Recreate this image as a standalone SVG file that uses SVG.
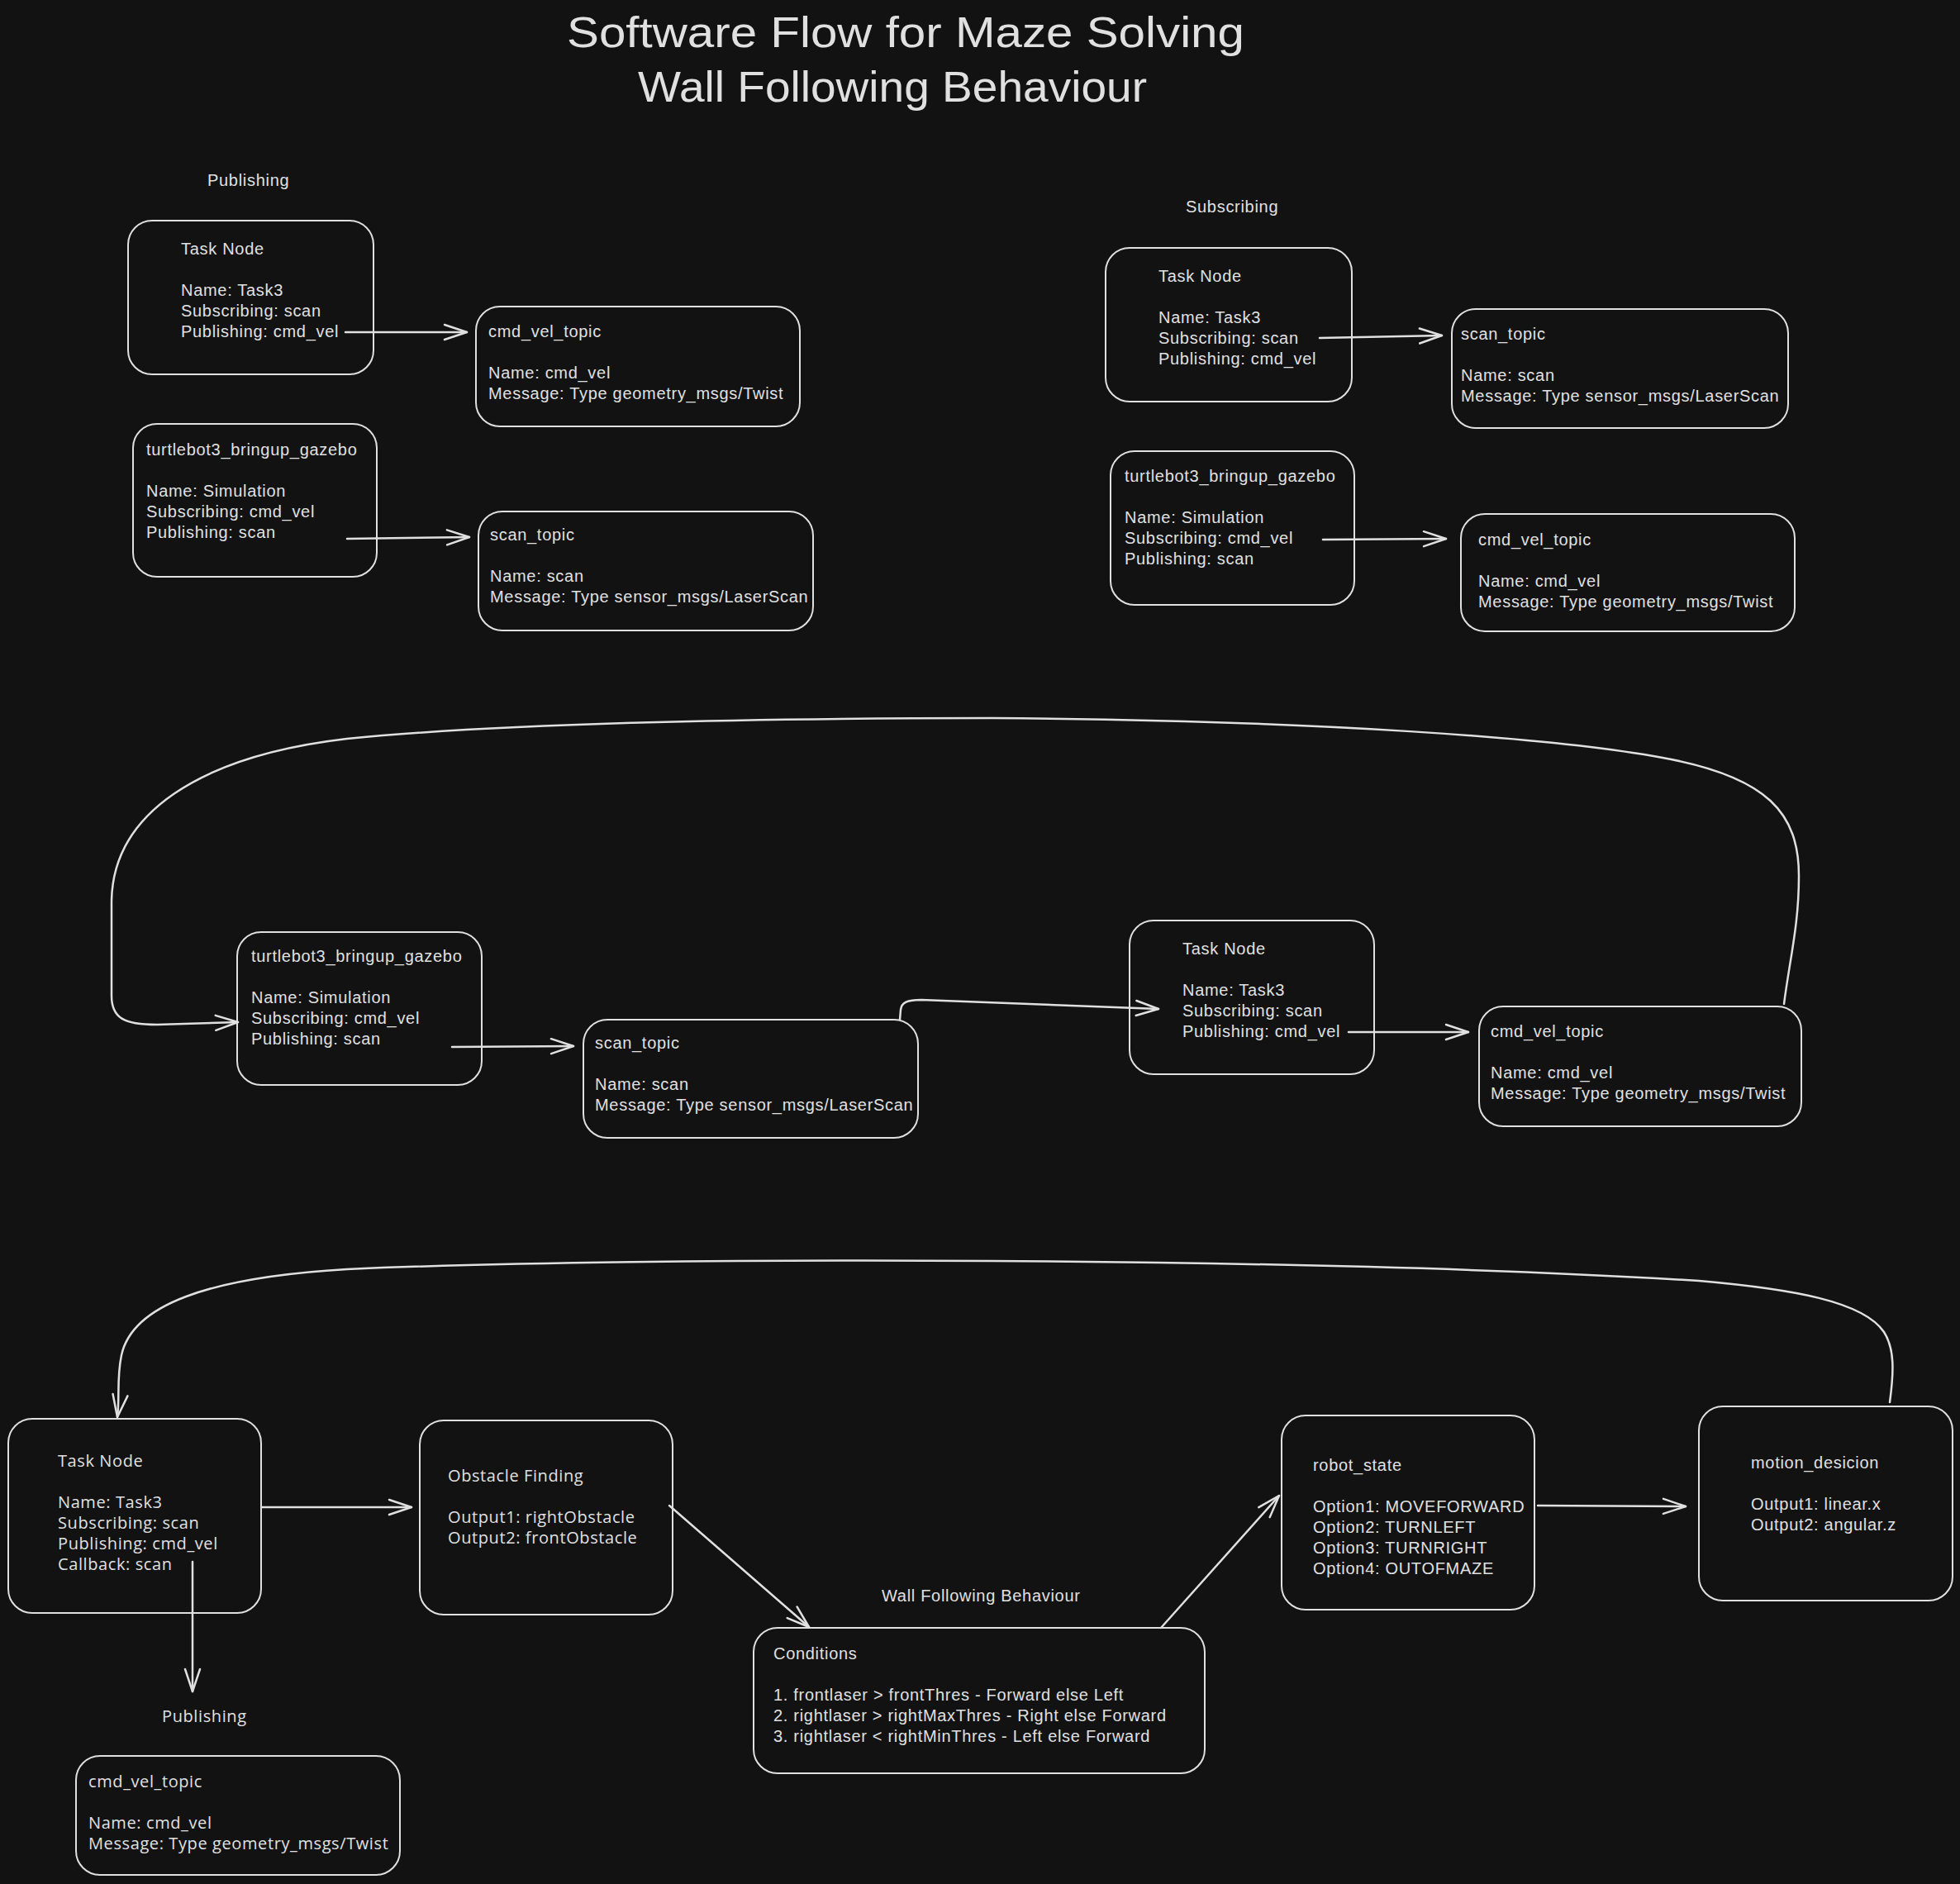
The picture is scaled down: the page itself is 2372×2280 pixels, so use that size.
<svg xmlns="http://www.w3.org/2000/svg" width="2372" height="2280" viewBox="0 0 2372 2280">
<defs>
<style>
.bg{fill:#121212}
.box{fill:none;stroke:#e0e0e0;stroke-width:2}
.edge{fill:none;stroke:#e0e0e0;stroke-width:2.5;stroke-linecap:round;stroke-linejoin:round}
.hw{font-family:"Liberation Sans",Arial,sans-serif;font-size:20px;fill:#e0e0e0;letter-spacing:0.7px}
.nu{font-family:"Open Sans","Noto Sans",sans-serif;font-size:20px;fill:#e0e0e0;letter-spacing:0.6px}
.title{font-family:"Liberation Sans",Arial,sans-serif;font-size:52px;fill:#e0e0e0}
</style>
<marker id="arr" markerUnits="userSpaceOnUse" markerWidth="40" markerHeight="30" viewBox="-30 -15 34 30" refX="0" refY="0" orient="auto">
<path d="M-27,-9 L0,0 L-27,9" fill="none" stroke="#e0e0e0" stroke-width="2.5" stroke-linecap="round" stroke-linejoin="round"/>
</marker>
</defs>
<rect class="bg" x="0" y="0" width="2372" height="2280"/>

<g id="title">
<text class="title" x="686" y="57" textLength="820" lengthAdjust="spacingAndGlyphs">Software Flow for Maze Solving</text>
<text class="title" x="772" y="123" textLength="616" lengthAdjust="spacingAndGlyphs">Wall Following Behaviour</text>
</g>

<g id="labels">
<text class="hw" x="251" y="225">Publishing</text>
<text class="hw" x="1435" y="257">Subscribing</text>
<text class="nu" x="196" y="2084">Publishing</text>
<text class="hw" x="1067" y="1938">Wall Following Behaviour</text>
</g>

<g id="connectors">
<path class="edge" d="M418 402 L565 402" marker-end="url(#arr)"/>
<path class="edge" d="M420 652 L568 650" marker-end="url(#arr)"/>
<path class="edge" d="M1597 409 L1745 406" marker-end="url(#arr)"/>
<path class="edge" d="M1601 653 L1750 652" marker-end="url(#arr)"/>
<path class="edge" d="M547 1267 L694 1266" marker-end="url(#arr)"/>
<path class="edge" d="M1089 1234 L1090 1222 C1091 1213 1098 1210 1115 1210 L1402 1221" marker-end="url(#arr)"/>
<path class="edge" d="M1632 1249 L1777 1249" marker-end="url(#arr)"/>
<path class="edge" d="M2159 1215 C2166 1160 2177 1120 2177 1060 C2177 985 2140 940 2012 917 C1880 893 1600 872 1200 869 C900 869 600 876 420 894 C240 915 137 985 135 1090 L135 1205 C135 1232 150 1240 190 1240 L288 1237" marker-end="url(#arr)"/>
<path class="edge" d="M317 1824 L498 1824" marker-end="url(#arr)"/>
<path class="edge" d="M233 1890 L233 2047" marker-end="url(#arr)"/>
<path class="edge" d="M810 1822 L979 1969" marker-end="url(#arr)"/>
<path class="edge" d="M1405 1970 L1548 1810" marker-end="url(#arr)"/>
<path class="edge" d="M1861 1822 L2040 1823" marker-end="url(#arr)"/>
<path class="edge" d="M2287 1697 C2292 1660 2293 1632 2280 1612 C2255 1575 2170 1560 2056 1550 C1800 1534 1500 1528 1200 1526 C900 1524 600 1528 420 1536 C250 1546 160 1580 147 1640 C141 1668 145 1692 142 1715" marker-end="url(#arr)"/>
</g>

<g id="task-pub">
<rect class="box" x="155" y="267" width="297" height="186" rx="29"/>
<text class="hw" x="219" y="308">Task Node</text>
<text class="hw" x="219" y="358">Name: Task3</text>
<text class="hw" x="219" y="383">Subscribing: scan</text>
<text class="hw" x="219" y="408">Publishing: cmd_vel</text>
</g>
<g id="cmdvel-pub">
<rect class="box" x="576" y="371" width="392" height="145" rx="29"/>
<text class="hw" x="591" y="408">cmd_vel_topic</text>
<text class="hw" x="591" y="458">Name: cmd_vel</text>
<text class="hw" x="591" y="483">Message: Type geometry_msgs/Twist</text>
</g>
<g id="sim-pub">
<rect class="box" x="161" y="513" width="295" height="185" rx="29"/>
<text class="hw" x="177" y="551">turtlebot3_bringup_gazebo</text>
<text class="hw" x="177" y="601">Name: Simulation</text>
<text class="hw" x="177" y="626">Subscribing: cmd_vel</text>
<text class="hw" x="177" y="651">Publishing: scan</text>
</g>
<g id="scan-pub">
<rect class="box" x="579" y="619" width="405" height="144" rx="29"/>
<text class="hw" x="593" y="654">scan_topic</text>
<text class="hw" x="593" y="704">Name: scan</text>
<text class="hw" x="593" y="729">Message: Type sensor_msgs/LaserScan</text>
</g>

<g id="task-sub">
<rect class="box" x="1338" y="300" width="298" height="186" rx="29"/>
<text class="hw" x="1402" y="341">Task Node</text>
<text class="hw" x="1402" y="391">Name: Task3</text>
<text class="hw" x="1402" y="416">Subscribing: scan</text>
<text class="hw" x="1402" y="441">Publishing: cmd_vel</text>
</g>
<g id="scan-sub">
<rect class="box" x="1757" y="374" width="407" height="144" rx="29"/>
<text class="hw" x="1768" y="411">scan_topic</text>
<text class="hw" x="1768" y="461">Name: scan</text>
<text class="hw" x="1768" y="486">Message: Type sensor_msgs/LaserScan</text>
</g>
<g id="sim-sub">
<rect class="box" x="1344" y="546" width="295" height="186" rx="29"/>
<text class="hw" x="1361" y="583">turtlebot3_bringup_gazebo</text>
<text class="hw" x="1361" y="633">Name: Simulation</text>
<text class="hw" x="1361" y="658">Subscribing: cmd_vel</text>
<text class="hw" x="1361" y="683">Publishing: scan</text>
</g>
<g id="cmdvel-sub">
<rect class="box" x="1768" y="622" width="404" height="142" rx="29"/>
<text class="hw" x="1789" y="660">cmd_vel_topic</text>
<text class="hw" x="1789" y="710">Name: cmd_vel</text>
<text class="hw" x="1789" y="735">Message: Type geometry_msgs/Twist</text>
</g>

<g id="sim-loop">
<rect class="box" x="287" y="1128" width="296" height="185" rx="29"/>
<text class="hw" x="304" y="1164">turtlebot3_bringup_gazebo</text>
<text class="hw" x="304" y="1214">Name: Simulation</text>
<text class="hw" x="304" y="1239">Subscribing: cmd_vel</text>
<text class="hw" x="304" y="1264">Publishing: scan</text>
</g>
<g id="scan-loop">
<rect class="box" x="706" y="1234" width="405" height="143" rx="29"/>
<text class="hw" x="720" y="1269">scan_topic</text>
<text class="hw" x="720" y="1319">Name: scan</text>
<text class="hw" x="720" y="1344">Message: Type sensor_msgs/LaserScan</text>
</g>
<g id="task-loop">
<rect class="box" x="1367" y="1114" width="296" height="186" rx="29"/>
<text class="hw" x="1431" y="1155">Task Node</text>
<text class="hw" x="1431" y="1205">Name: Task3</text>
<text class="hw" x="1431" y="1230">Subscribing: scan</text>
<text class="hw" x="1431" y="1255">Publishing: cmd_vel</text>
</g>
<g id="cmdvel-loop">
<rect class="box" x="1790" y="1218" width="390" height="145" rx="29"/>
<text class="hw" x="1804" y="1255">cmd_vel_topic</text>
<text class="hw" x="1804" y="1305">Name: cmd_vel</text>
<text class="hw" x="1804" y="1330">Message: Type geometry_msgs/Twist</text>
</g>

<g id="task-wall">
<rect class="box" x="10" y="1717" width="306" height="235" rx="29"/>
<text class="nu" x="70" y="1775">Task Node</text>
<text class="nu" x="70" y="1825">Name: Task3</text>
<text class="nu" x="70" y="1850">Subscribing: scan</text>
<text class="nu" x="70" y="1875">Publishing: cmd_vel</text>
<text class="nu" x="70" y="1900">Callback: scan</text>
</g>
<g id="obstacle">
<rect class="box" x="508" y="1719" width="306" height="235" rx="29"/>
<text class="nu" x="542" y="1793">Obstacle Finding</text>
<text class="nu" x="542" y="1843">Output1: rightObstacle</text>
<text class="nu" x="542" y="1868">Output2: frontObstacle</text>
</g>
<g id="cmdvel-wall">
<rect class="box" x="92" y="2125" width="392" height="144" rx="29"/>
<text class="nu" x="107" y="2163">cmd_vel_topic</text>
<text class="nu" x="107" y="2213">Name: cmd_vel</text>
<text class="nu" x="107" y="2238">Message: Type geometry_msgs/Twist</text>
</g>
<g id="conditions">
<rect class="box" x="912" y="1970" width="546" height="176" rx="29"/>
<text class="hw" x="936" y="2008">Conditions</text>
<text class="hw" x="936" y="2058">1. frontlaser &gt; frontThres - Forward else Left</text>
<text class="hw" x="936" y="2083">2. rightlaser &gt; rightMaxThres - Right else Forward</text>
<text class="hw" x="936" y="2108">3. rightlaser &lt; rightMinThres - Left else Forward</text>
</g>
<g id="robot-state">
<rect class="box" x="1551" y="1713" width="306" height="235" rx="29"/>
<text class="hw" x="1589" y="1780">robot_state</text>
<text class="hw" x="1589" y="1830">Option1: MOVEFORWARD</text>
<text class="hw" x="1589" y="1855">Option2: TURNLEFT</text>
<text class="hw" x="1589" y="1880">Option3: TURNRIGHT</text>
<text class="hw" x="1589" y="1905">Option4: OUTOFMAZE</text>
</g>
<g id="motion-decision">
<rect class="box" x="2056" y="1702" width="307" height="235" rx="29"/>
<text class="hw" x="2119" y="1777">motion_desicion</text>
<text class="hw" x="2119" y="1827">Output1: linear.x</text>
<text class="hw" x="2119" y="1852">Output2: angular.z</text>
</g>
</svg>
